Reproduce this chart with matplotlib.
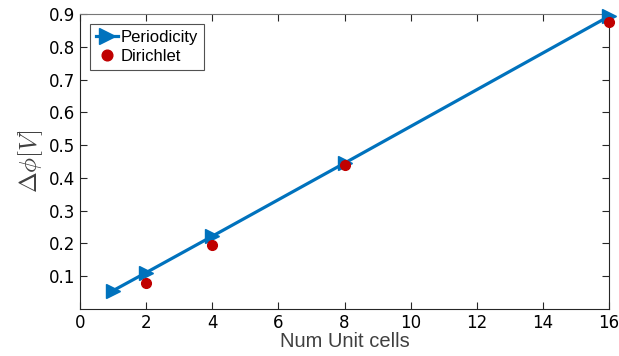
import matplotlib
matplotlib.use("Agg")
import matplotlib.pyplot as plt

per_x = [1, 2, 4, 8, 16]
per_y = [0.056, 0.111, 0.222, 0.445, 0.893]
dir_x = [2, 4, 8, 16]
dir_y = [0.079, 0.196, 0.440, 0.875]
xticks = [0, 2, 4, 6, 8, 10, 12, 14, 16]
yticks = [0.1, 0.2, 0.3, 0.4, 0.5, 0.6, 0.7, 0.8, 0.9]

plt.rcParams['mathtext.fontset'] = 'cm'
fig = plt.figure(figsize=(6.19, 3.56), dpi=100)
ax = fig.add_axes([80/619, 47/356, 529/619, 295/356])

ax.plot(per_x, per_y, color='#0072BD', lw=2.3, marker='>', ms=10, label='Periodicity', clip_on=False, zorder=3)
ax.plot(dir_x, dir_y, color='#C00000', ls='none', marker='o', ms=7, label='Dirichlet', clip_on=False, zorder=4)

ax.set_xlim(0, 16)
ax.set_ylim(0, 0.9)
ax.set_xticks(xticks)
ax.set_yticks(yticks)
ax.tick_params(direction='in', top=True, right=True, labelsize=12, length=5, width=0.8, colors='#262626', labelcolor='black')
for s in ax.spines.values():
    s.set_color('#262626')
    s.set_linewidth(0.8)
ax.spines['top'].set_color('#777777')

ax.set_xlabel('Num Unit cells', fontsize=14.5, color='#404040', labelpad=0, family='Liberation Sans')
ax.set_ylabel(r'$\Delta\phi[V]$', fontsize=18, color='#404040', labelpad=3)

leg = ax.legend(loc='upper left', prop={'family': 'Liberation Sans', 'size': 12}, frameon=True, fancybox=False,
                edgecolor='#262626', borderaxespad=0.6, handlelength=1.3, handletextpad=0.2,
                borderpad=0.35, labelspacing=0.25, markerscale=1.1)
leg.get_frame().set_linewidth(0.8)

fig.savefig('out.png', dpi=100)
